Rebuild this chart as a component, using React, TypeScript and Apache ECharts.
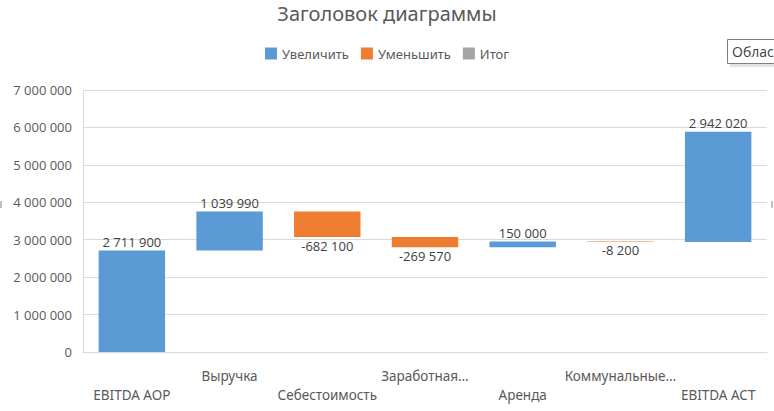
import React, { useEffect, useRef } from "react";
import * as echarts from "echarts";

const categories = [
  "EBITDA AOP",
  "Выручка",
  "Себестоимость",
  "Заработная…",
  "Аренда",
  "Коммунальные…",
  "EBITDA ACT",
];
const deltas = [2711900, 1039990, -682100, -269570, 150000, -8200, 2942020];
const legendNames = ["Увеличить", "Уменьшить", "Итог"];
const yTicks = { min: 0, max: 7000000, interval: 1000000 };

const fmt = (v: number) => {
  const s = Math.abs(Math.round(v)).toString().replace(/\B(?=(\d{3})+(?!\d))/g, " ");
  return (v < 0 ? "-" : "") + s;
};

export default function App() {
  const ref = useRef<HTMLDivElement>(null);
  useEffect(() => {
    if (!ref.current) return;
    const chart = echarts.init(ref.current, undefined, { renderer: "svg" });
    const base: number[] = [];
    const inc: (number | string)[] = [];
    const dec: (number | string)[] = [];
    let run = 0;
    deltas.forEach((d) => {
      if (d >= 0) {
        base.push(run);
        inc.push(d);
        dec.push("-");
        run += d;
      } else {
        run += d;
        base.push(run);
        inc.push("-");
        dec.push(-d);
      }
    });
    const labelFont = "'Open Sans', sans-serif";
    const narrow = "'Noto Sans', sans-serif";
    chart.setOption({
      animation: false,
      title: {
        text: "Заголовок диаграммы",
        left: "center",
        top: -2,
        textStyle: { fontFamily: narrow, fontSize: 20, fontWeight: "normal", color: "#595959" },
      },
      legend: {
        data: legendNames,
        top: 42,
        left: "center",
        itemWidth: 12,
        itemHeight: 12,
        itemGap: 12,
        icon: "rect",
        textStyle: { fontFamily: narrow, fontSize: 13, color: "#595959" },
        selectedMode: false,
      },
      grid: { left: 83, right: 7, top: 90, bottom: 59, containLabel: false },
      xAxis: {
        type: "category",
        data: categories,
        axisLine: { show: true, lineStyle: { color: "#d9d9d9" } },
        axisTick: { show: false },
        axisLabel: {
          interval: 0,
          margin: 14,
          lineHeight: 19,
          fontFamily: narrow,
          fontSize: 13.5,
          color: "#595959",
          formatter: (v: string, i: number) => (i % 2 === 0 ? "\n" + v : v),
        },
      },
      yAxis: {
        type: "value",
        min: yTicks.min,
        max: yTicks.max,
        interval: yTicks.interval,
        axisLine: { show: true, lineStyle: { color: "#d9d9d9" } },
        axisTick: { show: false },
        splitLine: { lineStyle: { color: "#d9d9d9" } },
        axisLabel: {
          margin: 11,
          fontFamily: labelFont,
          fontSize: 13,
          color: "#595959",
          formatter: (v: number) => fmt(v),
        },
      },
      series: [
        {
          name: "base",
          type: "bar",
          stack: "w",
          data: base,
          itemStyle: { color: "transparent" },
          barWidth: "68%",
          silent: true,
        },
        {
          name: legendNames[0],
          type: "bar",
          stack: "w",
          data: inc,
          itemStyle: { color: "#5b9bd5" },
          label: {
            show: true,
            position: "top",
            distance: 2,
            fontFamily: labelFont,
            fontSize: 13,
            color: "#404040",
            formatter: (p: any) => fmt(p.value),
          },
        },
        {
          name: legendNames[1],
          type: "bar",
          stack: "w",
          data: dec,
          itemStyle: { color: "#ed7d31" },
          label: {
            show: true,
            position: "bottom",
            distance: 2,
            fontFamily: labelFont,
            fontSize: 13,
            color: "#404040",
            formatter: (p: any) => fmt(-p.value),
          },
        },
        {
          name: legendNames[2],
          type: "bar",
          stack: "w",
          data: [],
          itemStyle: { color: "#a5a5a5" },
        },
      ],
      graphic: [
        { type: "rect", shape: { x: 730, y: 42, width: 60, height: 25 }, style: { fill: "#d0d0d0", opacity: 0.6 } },
        { type: "rect", shape: { x: 727.5, y: 39.5, width: 60, height: 24 }, style: { fill: "#fff", stroke: "#7f7f7f", lineWidth: 1 } },
        { type: "text", x: 732, y: 44, style: { text: "Облас", fontFamily: labelFont, fontSize: 14, fill: "#404040" } },
        { type: "rect", shape: { x: 0, y: 201, width: 2, height: 7 }, style: { fill: "#bfbfbf" } },
        { type: "rect", shape: { x: 771, y: 201, width: 2, height: 7 }, style: { fill: "#bfbfbf" } },
      ],
    });
    return () => chart.dispose();
  }, []);
  return (
    <div
      ref={ref}
      style={{ position: "fixed", left: 0, top: 0, width: 774, height: 411, background: "#fff" }}
    />
  );
}
